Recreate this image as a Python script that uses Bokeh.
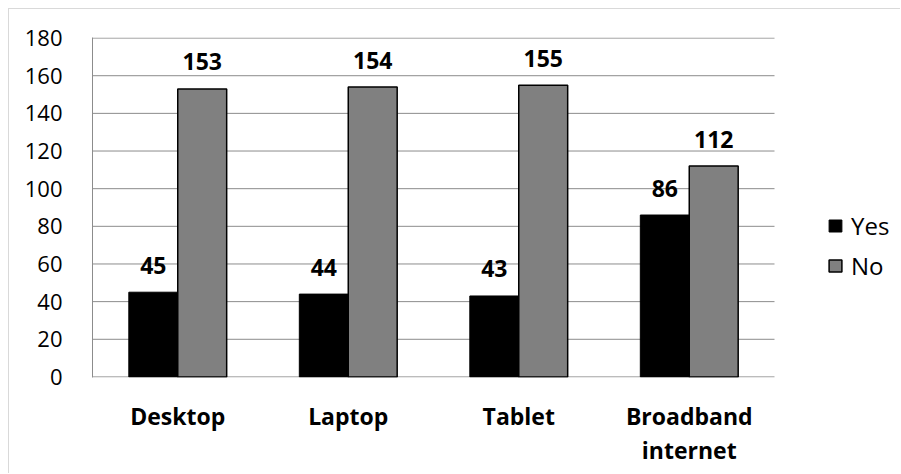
from bokeh.plotting import figure
from bokeh.models import (ColumnDataSource, Range1d, FixedTicker, Legend, LegendItem)
from bokeh.core.properties import value
from bokeh.embed import file_html
from bokeh.resources import INLINE

# Device ownership counts
categories = ["Desktop", "Laptop", "Tablet", "Broadband\ninternet"]
yes_counts = [45, 44, 43, 86]
no_counts = [153, 154, 155, 112]
y_ticks = [0, 20, 40, 60, 80, 100, 120, 140, 160, 180]

FONT = "Open Sans"
BAR_W = 0.287
n = len(categories)
centers = [i + 0.5 for i in range(n)]

# plot area spans 682 px for the categories; the frame continues to the
# right so the legend can sit beside the bars
CAT_PX = 682
FRAME_PX = 800
x_end = n * FRAME_PX / CAT_PX

yes_src = ColumnDataSource(dict(
    x=[c - BAR_W / 2 for c in centers], top=yes_counts,
    label=[str(v) for v in yes_counts]))
no_src = ColumnDataSource(dict(
    x=[c + BAR_W / 2 for c in centers], top=no_counts,
    label=[str(v) for v in no_counts]))

p = figure(width=892, height=465, output_backend="svg", toolbar_location=None,
           x_range=Range1d(0, x_end), y_range=Range1d(-0.3, 180.3),
           min_border_left=83, min_border_right=892 - 83 - FRAME_PX,
           min_border_top=28, min_border_bottom=97)
p.styles = {"margin-left": "8px", "margin-top": "8px",
            "border-left": "1px solid #d9d9d9", "border-top": "1px solid #d9d9d9"}
p.outline_line_color = None
p.background_fill_color = "white"
p.border_fill_color = "white"
p.xgrid.visible = False
p.ygrid.visible = False

# horizontal gridlines (the one at 0 doubles as the category axis line)
p.segment(x0=[0] * len(y_ticks), x1=[n] * len(y_ticks), y0=y_ticks, y1=y_ticks,
          line_color="#8c8c8c", line_width=1)

# y axis
p.yaxis.ticker = FixedTicker(ticks=y_ticks)
p.yaxis.axis_line_color = "#8c8c8c"
p.yaxis.major_tick_line_color = None
p.yaxis.minor_tick_line_color = None
p.yaxis.major_label_standoff = 24
p.yaxis.major_label_text_font = FONT
p.yaxis.major_label_text_font_size = "22px"
p.yaxis.major_label_text_color = "black"

# x axis: category names as tick labels
p.xaxis.ticker = FixedTicker(ticks=centers)
p.xaxis.major_label_overrides = {c: name for c, name in zip(centers, categories)}
p.xaxis.axis_line_color = None
p.xaxis.major_tick_line_color = None
p.xaxis.minor_tick_line_color = None
p.xaxis.major_label_standoff = 16
p.xaxis.major_label_text_font = FONT
p.xaxis.major_label_text_font_style = "bold"
p.xaxis.major_label_text_font_size = "23px"
p.xaxis.major_label_text_color = "black"
p.xaxis.major_label_text_line_height = 1.08

yes_r = p.vbar(x="x", top="top", bottom=0, width=BAR_W, source=yes_src,
               fill_color="black", line_color="black", line_width=1)
no_r = p.vbar(x="x", top="top", bottom=0, width=BAR_W, source=no_src,
              fill_color="#808080", line_color="black", line_width=1.5)

for src in (yes_src, no_src):
    p.text(x="x", y="top", text="label", source=src, text_align="center",
           text_baseline="alphabetic", y_offset=-27, text_font=value(FONT),
           text_font_style="bold", text_font_size="23px", text_color="black")

legend = Legend(items=[LegendItem(label="Yes", renderers=[yes_r]),
                       LegendItem(label="No", renderers=[no_r])],
                location=(735, 95), orientation="vertical",
                padding=0, margin=0, spacing=7, border_line_alpha=0,
                background_fill_alpha=0, glyph_width=16, glyph_height=15,
                label_height=24, label_standoff=8,
                label_text_font=FONT, label_text_font_size="24px",
                label_text_color="black")
p.add_layout(legend)

open("out.html", "w").write(file_html(p, INLINE))
